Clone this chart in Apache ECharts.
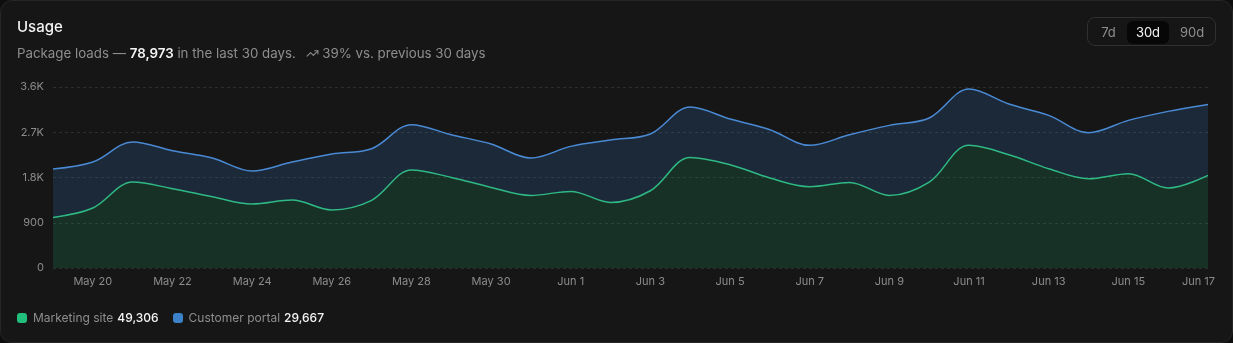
<!DOCTYPE html>
<html>
<head>
<meta charset="utf-8">
<script src="https://cdn.jsdelivr.net/npm/echarts@6/dist/echarts.min.js"></script>
<style>
  html, body { margin: 0; padding: 0; background: #0e0e0e; }
  body { width: 1233px; height: 343px; position: relative; overflow: hidden; font-family: Inter, "Noto Sans", sans-serif; }
  .card { position: absolute; left: 0; top: 0; width: 1231px; height: 341px; background: #161616; border: 1px solid #262626; border-radius: 12px; }
  .title { position: absolute; left: 17px; top: 17px; font-size: 15px; font-weight: 500; color: #f2f2f2; line-height: 20px; }
  .sub { position: absolute; left: 17px; top: 44px; font-size: 13.3px; color: #8e8e8e; line-height: 18px; white-space: nowrap; }
  .sub b { color: #f4f4f4; font-weight: 600; }
  .sub svg { vertical-align: -2px; margin-left: 6px; }
  .seg { position: absolute; left: 1087px; top: 17px; width: 127px; height: 27px; border: 1px solid #303030; border-radius: 8px; box-sizing: content-box; }
  .seg span { position: absolute; top: 3px; height: 23px; line-height: 23px; font-size: 13px; color: #8e8e8e; text-align: center; border-radius: 6px; }
  .seg span.on { background: #070707; color: #f4f4f4; }
  .legend { position: absolute; left: 17px; top: 309px; font-size: 12px; color: #8e8e8e; line-height: 18px; white-space: nowrap; }
  .legend i { display: inline-block; width: 10px; height: 10px; border-radius: 3px; vertical-align: -1px; margin-right: 6px; }
  .legend b { color: #f4f4f4; font-weight: 500; margin-left: 4px; margin-right: 14px; }
  #chart { position: absolute; left: 0; top: 0; width: 1233px; height: 343px; }
</style>
</head>
<body>
<div class="card"></div>
<div id="chart"></div>
<div class="title">Usage</div>
<div class="sub">Package loads — <b>78,973</b> in the last 30 days. <svg width="13" height="13" viewBox="0 0 24 24" fill="none" stroke="#8e8e8e" stroke-width="2" stroke-linecap="round" stroke-linejoin="round"><polyline points="22 7 13.5 15.5 8.5 10.5 2 17"></polyline><polyline points="16 7 22 7 22 13"></polyline></svg> 39% vs. previous 30 days</div>
<div class="seg">
  <span style="left:2px;width:37px">7d</span>
  <span class="on" style="left:39px;width:42px">30d</span>
  <span style="left:83px;width:42px">90d</span>
</div>
<div class="legend"><i style="background:#22bf7c"></i>Marketing site<b>49,306</b><i style="background:#3b82c9"></i>Customer portal<b>29,667</b></div>
<script>
// daily package loads, May 19 - Jun 17
var days = ['May 19', 'May 20', 'May 21', 'May 22', 'May 23', 'May 24', 'May 25', 'May 26', 'May 27', 'May 28',
    'May 29', 'May 30', 'May 31', 'Jun 1', 'Jun 2', 'Jun 3', 'Jun 4', 'Jun 5', 'Jun 6', 'Jun 7',
    'Jun 8', 'Jun 9', 'Jun 10', 'Jun 11', 'Jun 12', 'Jun 13', 'Jun 14', 'Jun 15', 'Jun 16', 'Jun 17'];

var marketing = [1006, 1193, 1710, 1577, 1418, 1273, 1352, 1154, 1345, 1949,
    1802, 1603, 1444, 1524, 1305, 1537, 2200, 2055, 1790, 1617,
    1703, 1444, 1710, 2439, 2254, 1975, 1776, 1876, 1591, 1842];

var portal = [963, 915, 796, 756, 770, 656, 756, 1113, 1028, 901,
    849, 863, 744, 895, 1241, 1128, 1002, 908, 961, 822,
    948, 1393, 1273, 1121, 1008, 1060, 915, 1060, 1524, 1412];

var yTicks = [0, 900, 1800, 2700, 3600];

function fmtY(v) {
    if (v >= 1000) return (v / 1000).toFixed(1) + 'K';
    return String(v);
}

var chart = echarts.init(document.getElementById('chart'), null, { renderer: 'canvas' });
chart.setOption({
    animation: false,
    grid: { left: 53, right: 25, top: 87, bottom: 75 },
    xAxis: {
        type: 'category',
        boundaryGap: false,
        data: days,
        axisLine: { show: false },
        axisTick: { show: false },
        axisLabel: {
            color: '#8c8c8c',
            fontSize: 11,
            fontFamily: 'Inter',
            margin: 8,
            interval: function(i) { return i % 2 === 1; },
            formatter: function(v, i) {
                return i === days.length - 1 ? '{last|' + v + '}' : v;
            },
            rich: { last: { color: '#8c8c8c', fontSize: 11, fontFamily: 'Inter', padding: [0, 19, 0, 0] } }
        }
    },
    yAxis: {
        type: 'value',
        min: yTicks[0],
        max: yTicks[yTicks.length - 1],
        interval: 900,
        axisLabel: { color: '#8c8c8c', fontSize: 11, fontFamily: 'Inter', margin: 9, formatter: fmtY },
        splitLine: { lineStyle: { color: '#2e2e2e', type: [3, 3] } }
    },
    series: [{
        name: 'Marketing site',
        type: 'line',
        stack: 'loads',
        smooth: 0.35,
        symbol: 'none',
        data: marketing,
        lineStyle: { color: '#2fb985', width: 1.5 },
        areaStyle: { color: 'rgba(35,152,105,0.3)' }
    }, {
        name: 'Customer portal',
        type: 'line',
        stack: 'loads',
        smooth: 0.35,
        symbol: 'none',
        data: portal,
        lineStyle: { color: '#4a8ad4', width: 1.5 },
        areaStyle: { color: 'rgba(52,115,185,0.3)' }
    }]
});
</script>
</body>
</html>
